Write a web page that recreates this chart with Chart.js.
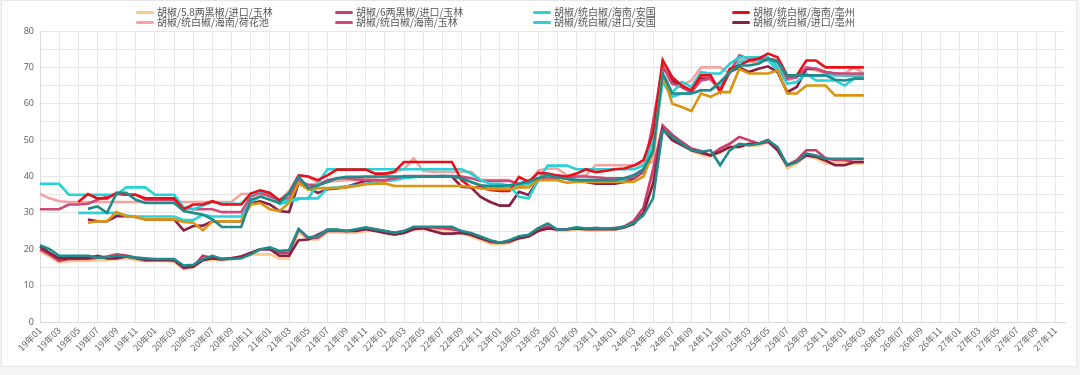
<!DOCTYPE html>
<html>
<head>
<meta charset="utf-8">
<script src="https://cdn.jsdelivr.net/npm/chart.js@4.4.1/dist/chart.umd.min.js"></script>
<style>
  html, body { margin: 0; padding: 0; background: #f4f4f4; }
  #wrap { position: relative; width: 1080px; height: 375px; overflow: hidden; }
  #card { position: absolute; left: 1px; top: 0px; width: 1076px; height: 367px; background: #fff; border: 1px solid #e6e6e6; box-sizing: border-box; }
  #chart { position: absolute; left: 0; top: 0; }
  .lg { position: absolute; font-family: "Noto Sans CJK SC", "Noto Sans", sans-serif; font-size: 10px; line-height: 10px; color: #555; white-space: nowrap; }
  .lg i { position: absolute; left: -21px; top: 4px; width: 18px; height: 3px; border-radius: 2px; }
</style>
</head>
<body>
<div id="wrap">
  <div id="card"></div>
  <canvas id="chart" width="1080" height="375"></canvas>
  <div id="legend"></div>
</div>
<script>
// ---- categories ----
const years = ['19','20','21','22','23','24','25','26','27'];
const months = ['01','02','03','04','05','06','07','08','09','10','11','12'];
const categories = [];
years.forEach(y => months.forEach(m => categories.push(y + '年' + m)));

// ---- series (index 0 = 19年01, last value = 26年03) ----
const s_58_yulin = [19.5,18,16.4,16.8,16.8,16.8,17,17,17.3,17.5,17,16.8,16.8,16.8,16.5,14.5,15,17,17,17,17.3,17.5,18.6,18.6,18.6,17.5,17.5,24.7,22.7,22.7,24.7,24.7,24.5,24.5,25,25,24.8,24.3,24.5,25.5,25.6,25.6,25.3,25.3,24.5,23.5,22.5,21.5,21.3,21.8,22.8,23.5,25,26,25,25,25.5,25.3,25,25.3,25.3,26,27.5,31,40,54,51,49,47,46,45.5,46.5,48,49,48.5,48.5,49.5,47.5,42.2,43.5,45.8,45,43.6,43.6,43.6,43.6,43.6];
const s_6_yulin = [20,18.5,16.8,17.3,17.3,17.3,17.7,18,18.6,18.3,17.7,17.3,17.2,17.2,17,14.8,15.3,18.2,17.5,17.3,17.5,18,19,20,20,19,19,25.5,23,23.2,25,25,25,25.2,25.8,25.5,25,24.5,25,26,26,26,25.8,25.5,25,24,23,22,21.8,22,23.2,23.8,25.4,26.3,25.3,25.5,25.8,25.7,25.8,25.7,25.8,26.3,27.8,31.5,42,54,51.5,49.5,47.7,47,45.8,47.7,49,50.9,50,49,49.5,47.2,43.1,44.5,47.2,47.2,45,44.5,44.5,44,44];
const s_hn_anguo = [38,38,38,35,35,35,35,35,35,37,37,37,35,35,35,31.5,31,32,33,32.5,32.5,32.5,35,36,35.5,33,33.5,34,34,38,42,42,42,42,42,42,42,42,42,42,42,42,42,42,42,40.8,39,38,38,37.5,34.4,34,39,43,43,43,42,42,42,42,42,42,42,43,50,68.3,63,66,64.6,68.7,68.3,68.3,71,72.8,72.8,72.8,72.8,70,65.5,66,68.3,66.4,66.4,66.4,65,66.9,66.9];
const s_hn_bozhou = [null,null,null,null,33,35.2,34,34,35.5,35,35,34,34,34,34,31,32.3,32.3,33.2,32.3,32.3,32.3,35.3,36.2,35.5,33.4,35.3,40.3,40,39,40.3,41.9,41.9,41.9,41.9,40.8,40.8,41.3,44,44,44,44,44,44,39,37,37,36.3,36,36,39.9,38.5,41,40.8,40.3,40,40.8,42,41.2,41.5,42,42.2,43,44.5,52,72,67.3,65,63.7,67.8,67.8,63.2,69.6,70.5,71.9,72.4,73.8,72.8,67.8,67.8,71.9,71.9,70,70,70,70,70];
const s_hn_hehuachi = [35.2,34,33.2,33,33,33,33,33,33,33,33,33,33,33,33,33,33,33,33,33,33,35.2,35.2,35.3,35,33.5,36,40.4,40,38.3,38.5,38.8,39,39,39.5,39.9,40,41.3,42,45,41.5,41.3,41.3,41.3,41.3,41.3,39,39,39,39,37.2,37.6,41.7,42.2,42.2,40.4,40,40.4,43.1,43.1,43.1,43.1,43.1,43.5,44,68,65.5,65,66.4,70,70,70,68.3,72.4,71.5,71.5,72.4,71,66.4,67.3,70,69.2,68.3,68.3,68.3,70,68.3];
const s_hn_yulin = [31,31,31,32.3,32.3,32.5,33.6,34.5,35.2,35,35,33.6,33.6,33.6,33.6,31.4,31,31,31,30.2,30.2,30.2,34.5,35.5,34.5,33.5,34,39,37.7,37.7,39,39.5,39.5,39.2,39,39,39,39.5,40.1,40.1,40.1,40.1,40.1,40.1,40,39.5,38.8,38.8,38.8,38.8,38,39,39.5,39.5,39.5,39.8,40,40,39.8,39.6,39.5,39.6,39.8,41.5,55,70.5,65.5,64.6,63.2,66.4,66.9,64.1,68.7,73.3,72.4,72.4,72.4,71.9,66.9,67.3,70,69.6,68.7,68.3,68.3,68.3,68.3];
const s_jk_anguo = [null,null,null,null,30,30,30,30,30,29.3,29,29,29,29,29,28,28,29.5,29,29,29,29,33,34.5,35.5,32.5,33,33.8,34,34,36.8,37,37.3,37.5,38,38.5,38.8,39,39.5,39.8,40,40,40.2,40,39.5,38.5,37.5,37,36.8,37,37.5,38,39,40,39.8,39.5,39,39,39,39,39,39.2,40,42,48,66,61.9,62.8,62.8,63.7,63.7,65.5,68.7,71.5,71.9,71.9,71.9,69.2,67.8,67.8,67.8,67.8,67.8,67.8,67.8,67.8,67.8];
const s_jk_bozhou = [null,null,null,null,null,28.2,27.7,27.7,29.1,29.1,28.9,28.2,28.2,28.2,28.2,25.2,26.4,26.5,27.7,27.7,27.7,27.7,32.7,33.2,32.3,30.5,30.2,38.2,36.8,35.5,36.5,36.7,37.2,38,38.8,39,38.8,39.3,40,40,40,40,40,40,37.2,37,34.4,33,32,32,35.8,34.9,39,39.5,40,39.3,39,38.5,38,38,38,38.5,39.5,41.3,52,70,66.4,64.6,63.2,66.9,66.9,63.7,68.7,70,68.7,69.6,70.3,68.7,63.2,64.6,69.6,69.6,68.7,68.3,67.8,67.8,67.8];
// additional series drawn in the reference but not named in its visible legend
const s_extra_maroon = [20.7,19,17.5,17.5,17.5,17.6,18.2,17.5,17.5,18,17.5,17,17,17,17,15,15.2,17,17.5,17.3,17.5,18,19,20,20,18.2,18.2,22.5,22.7,24,25.3,25.3,25,25,25.5,25,24.5,24,24.5,25.5,25.8,25,24.3,24.3,24.5,24,23,22.3,21.8,22.3,23,23.5,25,25.7,25.5,25.5,25.7,25.5,25.5,25.5,25.5,26,27,30,38,53,50,48.6,47.2,46.5,45.8,46.8,48.1,48.1,49,49,50,47.2,43.1,44,45.8,45.4,44.4,43.1,43.1,44,44];
const s_extra_teal_low = [21.1,20,18.2,18.2,18.2,18.2,17.7,17.8,18.2,18,17.7,17.5,17.3,17.3,17.3,15.5,15.7,17.3,18.2,17.3,17.3,17.5,18.6,20,20.5,19.5,19.8,25.6,23.2,23.6,25.4,25.4,25,25.5,26,25.5,25,24.5,25,26.2,26.2,26.2,26.2,26.2,25,24.5,23.5,22.5,21.8,22.5,23.6,24,25.8,27.1,25.4,25.5,26,25.7,25.8,25.7,25.8,26.1,27.2,29.4,34,52.7,50.9,49,47.2,46.8,47.2,43.1,47.2,49,48.6,49,50,48.1,43.1,44,46.3,45.8,44.9,44.9,44.9,44.9,44.9];
const s_extra_teal_up = [null,null,null,null,null,31.1,31.8,30,35.5,35.5,33.6,32.7,32.7,32.7,32.7,30.5,30,29.5,28.2,26.1,26.1,26.1,33.6,34.5,33.6,32.7,35.5,40,36.8,37.5,38.5,39.5,39.9,39.9,40,40,40,40,40,40,40,40,40,40,39.5,38.5,37.6,37.4,37.4,37.6,38,38.5,39.5,40.4,39.7,39.4,39,39,39,39,39,39.5,40.4,42,47,68.3,62.8,62.8,62.8,63.7,63.7,66,68.7,70.5,70.5,71,72.4,71.5,67.8,67.8,67.8,67.8,67.8,66.6,66.4,66.9,66.9];
const s_extra_gold = [null,null,null,null,null,27.3,27.7,27.7,30.2,29.1,28.9,28.2,28.2,28.2,28.2,27.5,27.3,25.2,27.7,27.7,27.7,27.7,32.3,32.7,31,30.5,32.7,38.2,36.4,36.8,36.8,36.8,37,37.4,37.9,38,38.1,37.4,37.4,37.4,37.4,37.4,37.4,37.4,37.4,37.2,36.7,36.5,36.5,36.5,37,37,39,39,39,38.3,38.5,38.5,38.5,38.5,38.5,38.5,38.6,40,46.7,68.3,60,59.1,58,62.8,61.9,63.2,63.2,69.6,68.3,68.3,68.3,69.2,62.8,62.8,65,65,65,62.3,62.3,62.3,62.3];

const seriesNames = ['胡椒/5.8两黑椒/进口/玉林','胡椒/6两黑椒/进口/玉林','胡椒/统白椒/海南/安国','胡椒/统白椒/海南/亳州',
                     '胡椒/统白椒/海南/荷花池','胡椒/统白椒/海南/玉林','胡椒/统白椒/进口/安国','胡椒/统白椒/进口/亳州'];
const seriesData = [s_58_yulin, s_6_yulin, s_hn_anguo, s_hn_bozhou, s_hn_hehuachi, s_hn_yulin, s_jk_anguo, s_jk_bozhou];
const seriesColors = ['#fcc98c','#c93d6a','#26d2d6','#e5101a','#f5a3a0','#cf4a78','#2fd0d8','#8a1f43'];
const extraData = [s_extra_maroon, s_extra_teal_low, s_extra_teal_up, s_extra_gold];
const extraColors = ['#8a1f43','#1f8b8b','#1f8b8b','#db9410'];
const drawOrder = [8,6,4,3,7,5,5,6]; // lower = drawn on top

const datasets = seriesData.map((d, k) => ({
  label: seriesNames[k], data: d, borderColor: seriesColors[k], backgroundColor: seriesColors[k],
  borderWidth: 2.6, pointRadius: 0, tension: 0, fill: false, order: drawOrder[k]
}));
extraData.forEach((d, k) => datasets.push({
  label: '', data: d, borderColor: extraColors[k], backgroundColor: extraColors[k],
  borderWidth: 2.6, pointRadius: 0, tension: 0, fill: false, order: (k === 1 || k === 2) ? 0 : (k === 3 ? 2 : 5)
}));

// HTML legend (4 columns x 2 rows like the reference)
const colX = [157, 356, 554, 753];
const rowY = [7, 17];
const legend = document.getElementById('legend');
seriesNames.forEach((name, k) => {
  const el = document.createElement('div');
  el.className = 'lg';
  el.style.left = colX[k % 4] + 'px';
  el.style.top = rowY[Math.floor(k / 4)] + 'px';
  el.innerHTML = '<i style="background:' + seriesColors[k] + '"></i>' + name;
  legend.appendChild(el);
});

const gridColor = '#e6e6e6';
new Chart(document.getElementById('chart'), {
  type: 'line',
  data: { labels: categories, datasets: datasets },
  options: {
    responsive: false,
    animation: false,
    devicePixelRatio: 1,
    layout: { padding: { left: 0, right: 15, top: 31, bottom: 8 } },
    plugins: { legend: { display: false }, tooltip: { enabled: false } },
    scales: {
      x: {
        afterFit: s => { s.height = 45; },
        grid: { color: c => (c.index % 2 === 0 ? gridColor : 'rgba(0,0,0,0)'), drawTicks: false },
        border: { color: '#d9d9d9' },
        ticks: {
          autoSkip: false, minRotation: 45, maxRotation: 45, padding: 3,
          color: '#666', font: { size: 9, family: '"Noto Sans CJK SC", sans-serif' },
          callback: (v, i) => (i % 2 === 0 ? categories[i] : '')
        }
      },
      y: {
        min: 0, max: 80,
        afterFit: s => { s.width = 40; },
        grid: { color: gridColor, drawTicks: false },
        border: { color: '#d9d9d9' },
        ticks: {
          stepSize: 5, padding: 6, color: '#666', font: { size: 9, family: '"Noto Sans", sans-serif' },
          callback: v => (v % 10 === 0 ? v : '')
        }
      }
    }
  }
});
</script>
</body>
</html>
